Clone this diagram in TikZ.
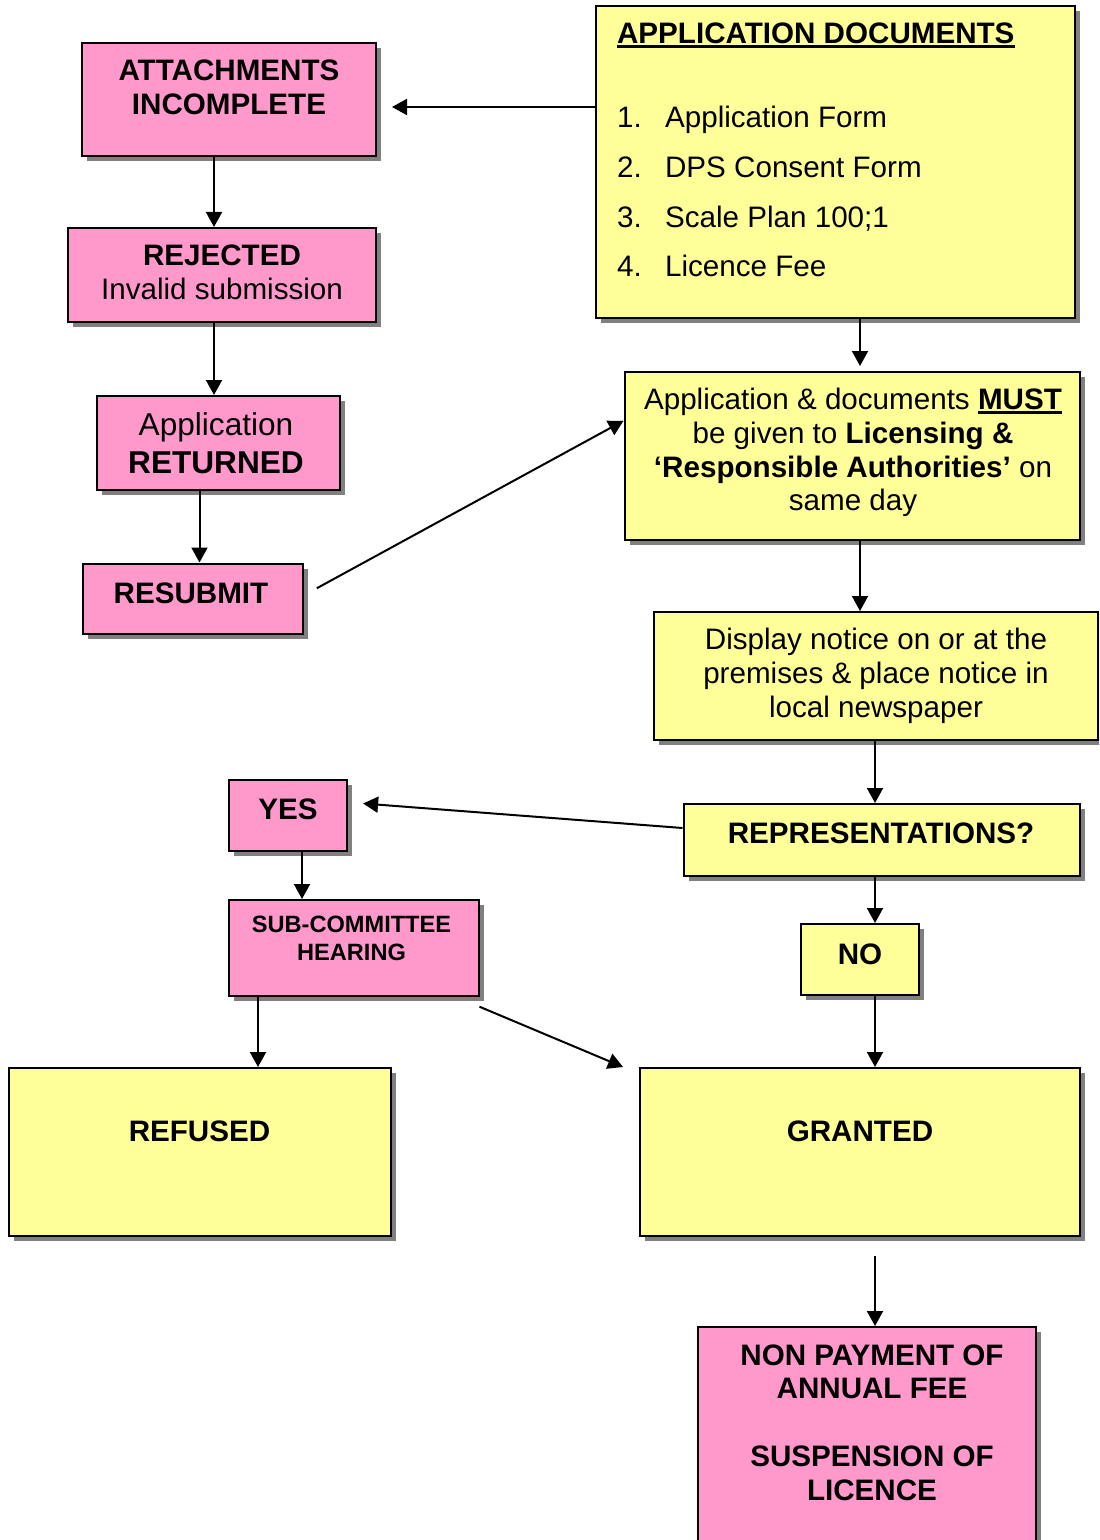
\documentclass[tikz,border=0pt]{standalone}
\usepackage{fontspec}
\setmainfont{Liberation Sans}
\usetikzlibrary{arrows.meta, shadows, fit, calc}
\definecolor{boxpink}{HTML}{FF99CC}
\definecolor{boxyellow}{HTML}{FFFF99}
\newsavebox{\ulbox}
\newcommand{\docul}[1]{\sbox{\ulbox}{#1}\rlap{\rule[-2.3pt]{\wd\ulbox}{1.4pt}}\usebox{\ulbox}}

\begin{document}
\begin{tikzpicture}[x=0.5pt, y=-0.5pt]
\useasboundingbox (0,0) rectangle (1099,1540);
\clip (0,0) rectangle (1099,1540);

\begin{scope}[every node/.style={draw, line width=1pt, inner sep=0pt,
              drop shadow={shadow xshift=2.5pt, shadow yshift=-2.5pt, fill=black!50, opacity=1}}]
  \node[fill=boxpink, fit={(82,43) (376,156)}] (attach) {};
  \node[fill=boxpink, fit={(67.5,228) (376,322)}] (rejected) {};
  \node[fill=boxpink, fit={(96.5,396) (340,490)}] (returned) {};
  \node[fill=boxpink, fit={(82.5,563.5) (302.5,634)}] (resubmit) {};
  \node[fill=boxyellow, fit={(595.5,6) (1075,318)}] (appdocs) {};
  \node[fill=boxyellow, fit={(624.5,372) (1080,540)}] (must) {};
  \node[fill=boxyellow, fit={(654,612) (1097.5,739.5)}] (display) {};
  \node[fill=boxyellow, fit={(683.5,804) (1080,876)}] (repr) {};
  \node[fill=boxpink, fit={(228.5,780) (346.5,851)}] (yes) {};
  \node[fill=boxpink, fit={(228.5,900) (478.5,996)}] (sub) {};
  \node[fill=boxyellow, fit={(801,924) (918.5,995)}] (no) {};
  \node[fill=boxyellow, fit={(8.5,1068) (390.5,1236)}] (refused) {};
  \node[fill=boxyellow, fit={(640,1068) (1080,1236)}] (granted) {};
  \node[fill=boxpink, fit={(698,1327) (1036,1560)}] (nonpay) {};
\end{scope}

\begin{scope}[every node/.style={inner sep=0pt, align=center, font=\fontsize{14.8}{16.9}\selectfont}]
  \node (attachtext) at (229,87.6) {\textbf{ATTACHMENTS}\\\textbf{INCOMPLETE}};
  \node (rejectedtext) at (222,272.5) {\textbf{REJECTED}\\Invalid submission};
  \node[font=\fontsize{15.8}{19}\selectfont] (returnedtext) at (216,443) {Application\\\textbf{RETURNED}};
  \node[anchor=base] (resubmittext) at (191,603) {\textbf{RESUBMIT}};
  \node[anchor=base west] (doctitle) at (616.7,43.3) {\docul{\textbf{APPLICATION DOCUMENTS}}};
  \foreach \n/\doc in {1/Application Form, 2/DPS Consent Form, 3/Scale Plan 100;1, 4/Licence Fee}
    \node[anchor=base west] (doc\n) at (616.7,{78.03+49.67*\n}) {\makebox[24pt][l]{\n.}\doc};
  \node (musttext) at (853,452.6) {Application \& documents \docul{\textbf{MUST}}\\be given to \textbf{Licensing \&}\\\textbf{‘Responsible Authorities’} on\\same day};
  \node (displaytext) at (876,675.9) {Display notice on or at the\\premises \& place notice in\\local newspaper};
  \node[anchor=base] (reprtext) at (881,843) {\textbf{REPRESENTATIONS?}};
  \node[anchor=base] (yestext) at (288,819) {\textbf{YES}};
  \node[font=\fontsize{11.8}{14.3}\selectfont] (subtext) at (351.5,938.5) {\textbf{SUB-COMMITTEE}\\\textbf{HEARING}};
  \node[anchor=base] (notext) at (860,964) {\textbf{NO}};
  \node[anchor=base] (refusedtext) at (199.5,1141) {\textbf{REFUSED}};
  \node[anchor=base] (grantedtext) at (860,1141) {\textbf{GRANTED}};
  \node (nonpaytext) at (872,1422.5) {\textbf{NON PAYMENT OF}\\\textbf{ANNUAL FEE}\\[16.9pt]\textbf{SUSPENSION OF}\\\textbf{LICENCE}};
\end{scope}

\begin{scope}[>={Triangle[length=7.5pt, width=8pt]},
              every edge/.style={draw=black, line width=1pt}]
  \path[->] (appdocs.west |- 0,107) edge[shorten >=7.5pt] (attach.east |- 0,107);
  \path[->] (attach.south -| 214,0) edge (rejected.north -| 214,0);
  \path[->] (rejected.south -| 214,0) edge (returned.north -| 214,0);
  \path[->] (returned.south -| 199.5,0) edge (resubmit.north -| 199.5,0);
  \path[->] ($(resubmit.east)+(13.3,-10.5)$) edge ($(must.west)+(0,-35.2)$);
  \path[->] (appdocs.south -| 860,0) edge[shorten >=2.5pt] (must.north -| 860,0);
  \path[->] (must.south -| 860,0) edge (display.north -| 860,0);
  \path[->] (display.south -| 875,0) edge (repr.north -| 875,0);
  \path[->] (repr.west |- 0,828) edge ($(yes.east)+(15.6,-12)$);
  \path[->] (yes.south -| 302,0) edge (sub.north -| 302,0);
  \path[->] (repr.south -| 875,0) edge (no.north -| 875,0);
  \path[->] (no.south -| 875,0) edge (granted.north -| 875,0);
  \path[->] (sub.south -| 258,0) edge (refused.north -| 258,0);
  \path[->] ($(sub.south east)+(0,9.7)$) edge ($(granted.north west)+(-16,0)$);
  \path[->] (granted.south -| 875,0) edge[shorten <=9.5pt] (nonpay.north -| 875,0);
\end{scope}
\end{tikzpicture}
\end{document}
